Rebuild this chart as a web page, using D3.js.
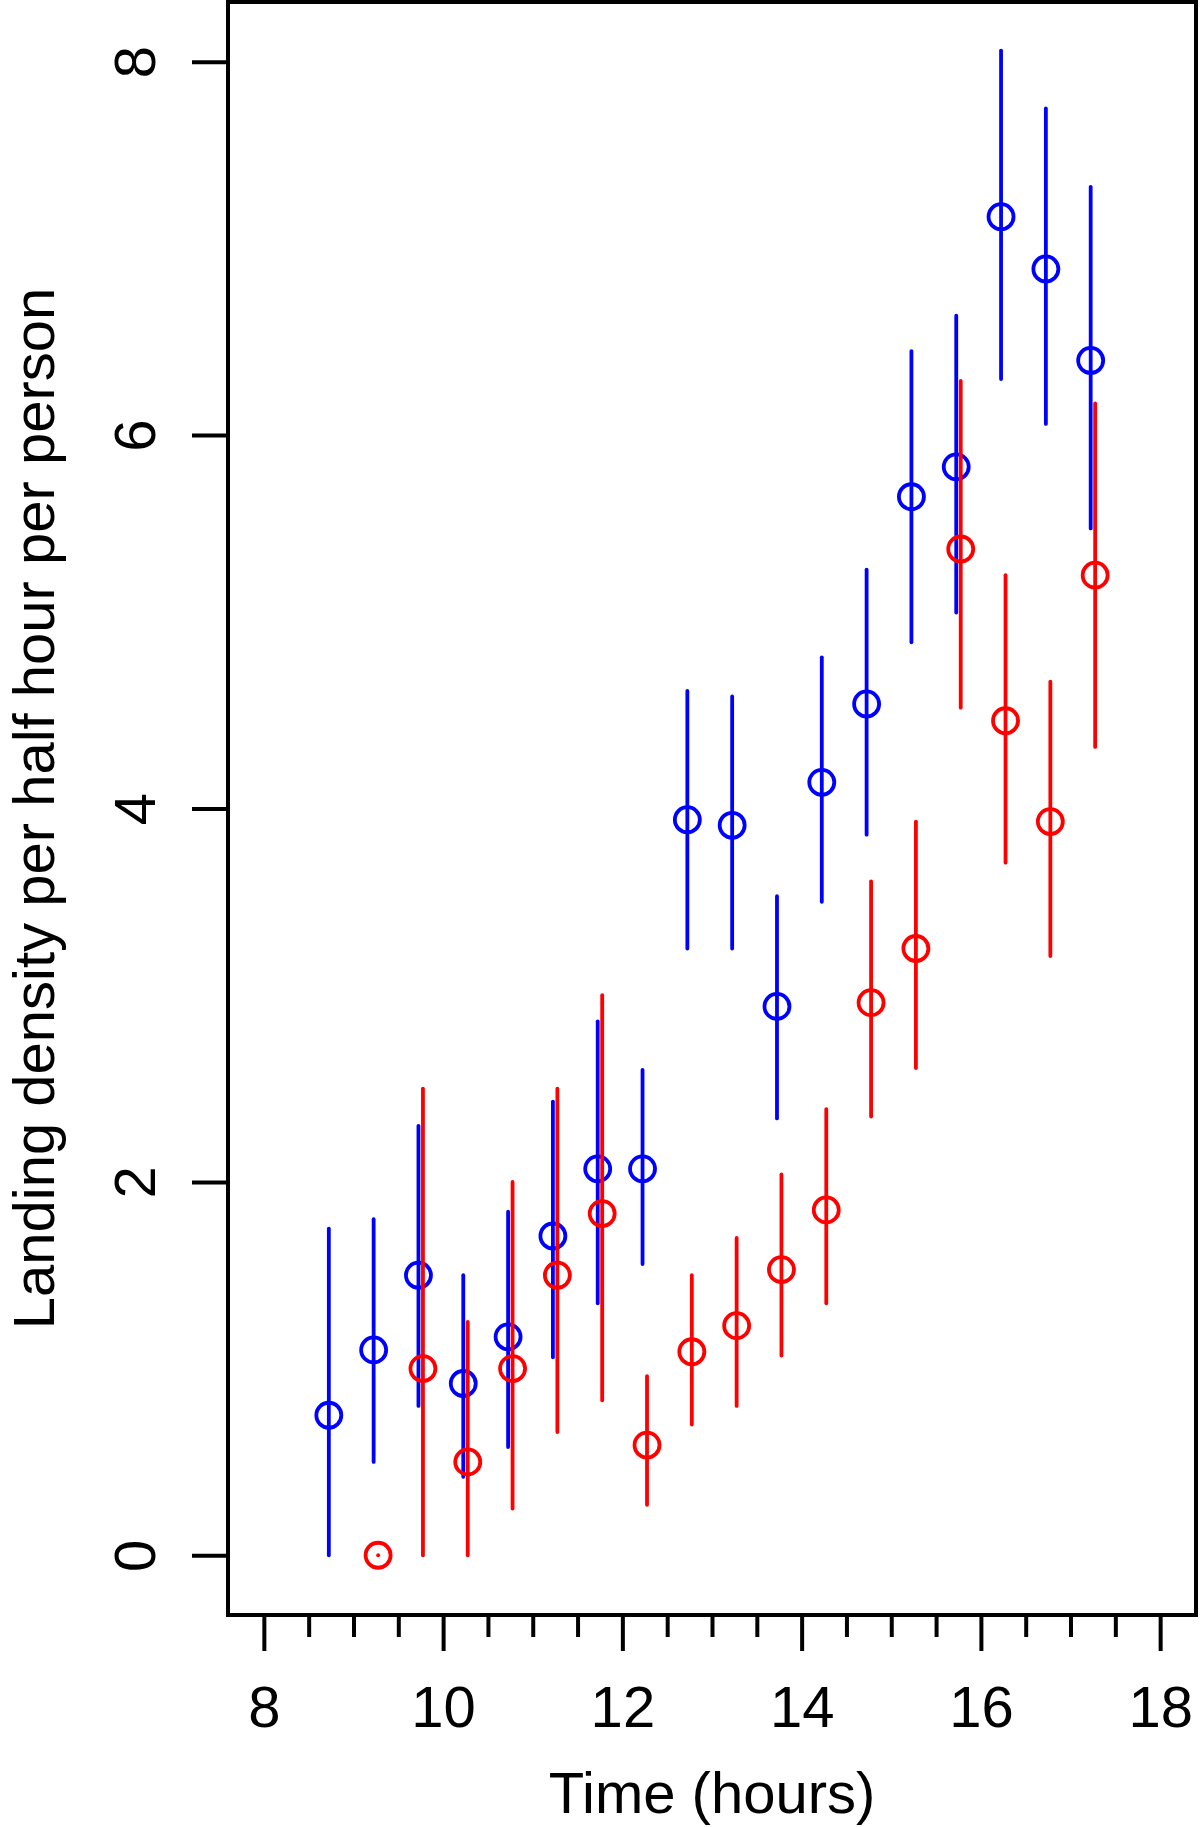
<!DOCTYPE html>
<html>
<head>
<meta charset="utf-8">
<script src="https://cdn.jsdelivr.net/npm/d3@7"></script>
<style>
  html, body { margin: 0; padding: 0; background: #fff; }
  svg { display: block; font-family: "Liberation Sans", Arial, Helvetica, sans-serif; }
</style>
</head>
<body>
<div id="chart"></div>
<script>
// half-hour bins (hours); blue series starts one bin earlier than red
const blueTimes = [8.75, 9.25, 9.75, 10.25, 10.75, 11.25, 11.75, 12.25, 12.75,
  13.25, 13.75, 14.25, 14.75, 15.25, 15.75, 16.25, 16.75, 17.25];
const blueMean = [0.75, 1.10, 1.50, 0.92, 1.17, 1.71, 2.07, 2.07, 3.94,
  3.91, 2.94, 4.14, 4.56, 5.67, 5.83, 7.17, 6.89, 6.40];
const blueLow = [0.00, 0.50, 0.80, 0.42, 0.58, 1.06, 1.35, 1.56, 3.25,
  3.25, 2.34, 3.50, 3.86, 4.89, 5.05, 6.30, 6.06, 5.50];
const blueHigh = [1.75, 1.80, 2.30, 1.50, 1.84, 2.43, 2.86, 2.60, 4.63,
  4.60, 3.53, 4.81, 5.28, 6.45, 6.64, 8.06, 7.75, 7.33];

const redTimes = [9.25, 9.75, 10.25, 10.75, 11.25, 11.75, 12.25, 12.75,
  13.25, 13.75, 14.25, 14.75, 15.25, 15.75, 16.25, 16.75, 17.25];
const redMean = [0.00, 1.00, 0.50, 1.00, 1.50, 1.83, 0.59, 1.09,
  1.23, 1.53, 1.85, 2.96, 3.25, 5.39, 4.47, 3.93, 5.25];
const redLow = [0.00, 0.00, 0.00, 0.25, 0.66, 0.83, 0.27, 0.70,
  0.80, 1.07, 1.35, 2.35, 2.61, 4.54, 3.71, 3.21, 4.33];
const redHigh = [0.00, 2.50, 1.25, 2.00, 2.50, 3.00, 0.96, 1.50,
  1.70, 2.04, 2.39, 3.61, 3.93, 6.29, 5.25, 4.68, 6.17];

const xMajorTicks = [8, 10, 12, 14, 16, 18];
const xMinorTicks = [8.5, 9, 9.5, 10.5, 11, 11.5, 12.5, 13, 13.5,
  14.5, 15, 15.5, 16.5, 17, 17.5];
const yTicks = [0, 2, 4, 6, 8];

const xLabel = 'Time (hours)';
const yLabel = 'Landing density per half hour per person';

const width = 1200;
const height = 1827;
const plot = { left: 228, right: 1196, top: 2, bottom: 1615 };
const dodge = 0.025; // small horizontal shift between the two series
const fontSize = 58;
const markWidth = 3.8;

const svg = d3.select('#chart')
  .append('svg')
  .attr('width', width)
  .attr('height', height);

// R style: xlim c(8,18), ylim c(0,8) with 4% padding
const x = d3.scaleLinear()
  .domain([7.6, 18.4])
  .range([plot.left, plot.right]);
const y = d3.scaleLinear()
  .domain([-0.32, 8.32])
  .range([plot.bottom, plot.top]);

const buildSeries = (times, mean, low, high, shift) =>
  times.map((t, i) => ({ t: t + shift, m: mean[i], lo: low[i], hi: high[i] }));

const series = [
  { color: '#0000ff', data: buildSeries(blueTimes, blueMean, blueLow, blueHigh, -dodge) },
  { color: '#ff0000', data: buildSeries(redTimes, redMean, redLow, redHigh, dodge) }
];

// x axis: major ticks with labels
const xMajor = svg.append('g')
  .attr('class', 'x-axis')
  .attr('transform', `translate(0,${plot.bottom})`)
  .call(d3.axisBottom(x).tickValues(xMajorTicks).tickSize(36).tickFormat(d3.format('d')));
xMajor.select('.domain').remove();
xMajor.selectAll('line').attr('stroke', '#000').attr('stroke-width', 4);
xMajor.selectAll('text')
  .attr('y', 112)
  .attr('dy', 0)
  .attr('fill', '#000')
  .style('font-size', fontSize + 'px');

// x axis: minor half-hour ticks
const xMinor = svg.append('g')
  .attr('class', 'x-axis-minor')
  .attr('transform', `translate(0,${plot.bottom})`)
  .call(d3.axisBottom(x).tickValues(xMinorTicks).tickSize(22).tickFormat(''));
xMinor.select('.domain').remove();
xMinor.selectAll('line').attr('stroke', '#000').attr('stroke-width', 4);

// y axis with labels parallel to the axis
const yAxis = svg.append('g')
  .attr('class', 'y-axis')
  .attr('transform', `translate(${plot.left},0)`)
  .call(d3.axisLeft(y).tickValues(yTicks).tickSize(36).tickFormat(d3.format('d')));
yAxis.select('.domain').remove();
yAxis.selectAll('line').attr('stroke', '#000').attr('stroke-width', 4);
yAxis.selectAll('text')
  .attr('x', null)
  .attr('y', null)
  .attr('dy', null)
  .attr('text-anchor', 'middle')
  .attr('fill', '#000')
  .attr('transform', 'translate(-73,0) rotate(-90)')
  .style('font-size', fontSize + 'px');

// plot box
svg.append('rect')
  .attr('x', plot.left)
  .attr('y', plot.top)
  .attr('width', plot.right - plot.left)
  .attr('height', plot.bottom - plot.top)
  .attr('fill', 'none')
  .attr('stroke', '#000')
  .attr('stroke-width', 4);

// error bars + open circles, blue first so red sits on top
series.forEach(s => {
  const g = svg.append('g');
  g.selectAll('line')
    .data(s.data)
    .enter()
    .append('line')
    .attr('x1', d => x(d.t))
    .attr('x2', d => x(d.t))
    .attr('y1', d => y(d.lo))
    .attr('y2', d => y(d.hi))
    .attr('stroke', s.color)
    .attr('stroke-width', markWidth)
    .attr('stroke-linecap', 'round');
  g.selectAll('circle')
    .data(s.data)
    .enter()
    .append('circle')
    .attr('cx', d => x(d.t))
    .attr('cy', d => y(d.m))
    .attr('r', 12.5)
    .attr('fill', 'none')
    .attr('stroke', s.color)
    .attr('stroke-width', markWidth);
});

// axis titles
svg.append('text')
  .attr('x', (plot.left + plot.right) / 2)
  .attr('y', 1813)
  .attr('text-anchor', 'middle')
  .style('font-size', fontSize + 'px')
  .text(xLabel);

svg.append('text')
  .attr('transform', `translate(54,${(plot.top + plot.bottom) / 2}) rotate(-90)`)
  .attr('text-anchor', 'middle')
  .style('font-size', fontSize + 'px')
  .text(yLabel);
</script>
</body>
</html>
